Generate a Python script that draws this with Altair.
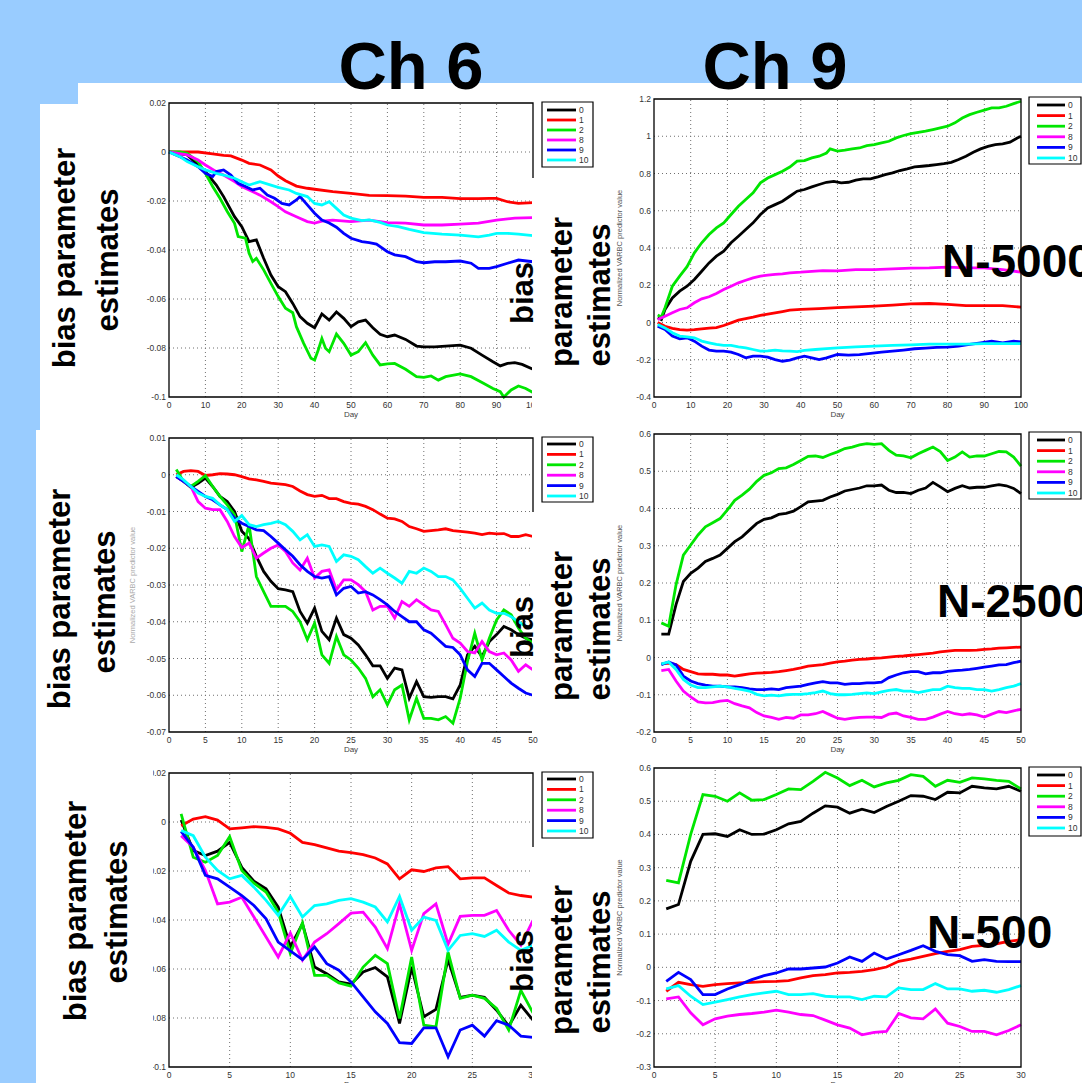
import altair as alt
import pandas as pd

W, H = 1082, 1083
FONT = "Liberation Sans"
SERIES = ["0", "1", "2", "8", "9", "10"]
COLORS = ["#000000", "#ff0000", "#00e600", "#ff00ff", "#0000ff", "#00ffff"]
SLIDE_BLUE = "#99ccff"
COLOR_SCALE = alt.Scale(domain=SERIES, range=COLORS)
YTITLE = "Normalized VARBC predictor value"

# ---------------- Panel 1: Ch 6, N-5000 (days 0-100) ----------------
P1_DAYS = {
    "0": [0, 5, 10, 13, 15, 18, 20, 22, 24, 26, 28, 30, 32, 34, 36, 38, 40, 42, 44, 46, 48, 50, 52, 54, 56, 58, 60, 62, 65, 68, 70, 73, 76, 80, 83, 86, 89, 91, 93, 95, 97, 100],
    "1": [0, 8, 12, 15, 17, 20, 22, 25, 28, 30, 32, 35, 38, 40, 45, 50, 55, 60, 65, 70, 75, 80, 85, 88, 90, 93, 96, 100],
    "2": [0, 3, 5, 8, 10, 12, 14, 16, 18, 19, 21, 22, 23, 24, 26, 28, 30, 32, 34, 35, 37, 39, 40, 41, 42, 43, 44, 46, 48, 50, 52, 54, 56, 58, 60, 62, 65, 68, 70, 72, 74, 76, 80, 83, 86, 89, 91, 92, 94, 96, 98, 100],
    "8": [0, 5, 8, 10, 13, 15, 18, 20, 22, 25, 28, 30, 32, 35, 38, 40, 42, 45, 50, 55, 60, 65, 70, 75, 80, 85, 90, 95, 100],
    "9": [0, 3, 5, 8, 10, 12, 13, 15, 17, 19, 21, 23, 25, 27, 29, 31, 33, 35, 36, 38, 40, 42, 44, 46, 48, 50, 53, 55, 57, 60, 62, 65, 68, 70, 73, 76, 80, 83, 85, 88, 90, 93, 96, 100],
    "10": [0, 3, 5, 8, 10, 13, 15, 18, 20, 22, 25, 28, 30, 33, 35, 38, 40, 42, 44, 46, 48, 50, 53, 55, 58, 60, 63, 66, 70, 75, 80, 85, 88, 90, 93, 96, 100],
}
P1_VALS = {
    "0": [0, -0.0012, -0.0080, -0.0135, -0.0182, -0.0264, -0.0305, -0.0366, -0.0359, -0.0434, -0.0502, -0.0550, -0.0570, -0.0618, -0.0672, -0.0699, -0.0717, -0.0661, -0.0686, -0.0653, -0.0679, -0.0713, -0.0693, -0.0686, -0.0717, -0.0744, -0.0754, -0.0747, -0.0765, -0.0792, -0.0795, -0.0795, -0.0792, -0.0788, -0.0801, -0.0829, -0.0856, -0.0873, -0.0863, -0.0860, -0.0867, -0.0887],
    "1": [0, 0, -0.0008, -0.0014, -0.0016, -0.0033, -0.0046, -0.0053, -0.0073, -0.0098, -0.0117, -0.0139, -0.0148, -0.0152, -0.0162, -0.0169, -0.0177, -0.0178, -0.0180, -0.0185, -0.0185, -0.0190, -0.0190, -0.0189, -0.0189, -0.0203, -0.0210, -0.0207],
    "2": [0, 0, -0.0005, -0.0040, -0.0087, -0.0141, -0.0189, -0.0243, -0.0291, -0.0345, -0.0352, -0.0413, -0.0447, -0.0434, -0.0481, -0.0536, -0.0590, -0.0638, -0.0656, -0.0713, -0.0781, -0.0842, -0.0849, -0.0808, -0.0761, -0.0801, -0.0815, -0.0743, -0.0781, -0.0829, -0.0815, -0.0778, -0.0829, -0.0869, -0.0865, -0.0863, -0.0887, -0.0917, -0.0920, -0.0914, -0.0931, -0.0917, -0.0906, -0.0917, -0.0941, -0.0965, -0.0978, -0.1000, -0.0971, -0.0955, -0.0965, -0.0982],
    "8": [0, -0.0012, -0.0033, -0.0053, -0.0080, -0.0094, -0.0121, -0.0141, -0.0155, -0.0176, -0.0203, -0.0223, -0.0244, -0.0264, -0.0284, -0.0290, -0.0282, -0.0278, -0.0284, -0.0278, -0.0288, -0.0290, -0.0298, -0.0298, -0.0294, -0.0290, -0.0278, -0.0270, -0.0268],
    "9": [0, -0.0019, -0.0033, -0.0060, -0.0087, -0.0100, -0.0080, -0.0073, -0.0094, -0.0128, -0.0141, -0.0155, -0.0148, -0.0176, -0.0189, -0.0210, -0.0216, -0.0196, -0.0182, -0.0216, -0.0250, -0.0278, -0.0290, -0.0307, -0.0332, -0.0352, -0.0366, -0.0370, -0.0376, -0.0407, -0.0420, -0.0427, -0.0448, -0.0452, -0.0448, -0.0448, -0.0445, -0.0454, -0.0475, -0.0475, -0.0468, -0.0454, -0.0441, -0.0448],
    "10": [0, -0.0019, -0.0039, -0.0060, -0.0073, -0.0087, -0.0094, -0.0107, -0.0121, -0.0135, -0.0121, -0.0135, -0.0144, -0.0155, -0.0169, -0.0182, -0.0210, -0.0216, -0.0203, -0.0230, -0.0257, -0.0270, -0.0280, -0.0277, -0.0287, -0.0298, -0.0305, -0.0316, -0.0329, -0.0335, -0.0339, -0.0346, -0.0339, -0.0332, -0.0332, -0.0335, -0.0341],
}

# ---------------- Panel 2: Ch 9, N-5000 (days 1-100) ----------------
P2_DAYS = {
    "0": [1, 2, 3, 5, 7, 9, 11, 13, 15, 17, 19, 21, 23, 25, 27, 29, 31, 33, 35, 37, 39, 41, 43, 45, 47, 49, 51, 53, 55, 57, 59, 61, 63, 65, 67, 69, 71, 73, 75, 77, 79, 81, 83, 85, 87, 89, 91, 93, 95, 97, 99, 100],
    "1": [1, 3, 5, 7, 9, 11, 13, 15, 17, 19, 21, 23, 25, 27, 29, 31, 33, 35, 37, 40, 45, 50, 55, 60, 65, 70, 75, 80, 85, 90, 95, 100],
    "2": [1, 2, 3, 5, 7, 9, 11, 13, 15, 17, 19, 21, 23, 25, 27, 29, 31, 33, 35, 37, 39, 41, 43, 45, 47, 48, 50, 52, 54, 56, 58, 60, 62, 64, 66, 68, 70, 72, 74, 76, 78, 80, 82, 84, 86, 88, 90, 92, 94, 96, 98, 100],
    "8": [1, 3, 5, 7, 9, 11, 13, 15, 17, 19, 21, 23, 25, 27, 29, 31, 33, 35, 37, 40, 43, 46, 50, 55, 60, 65, 70, 75, 80, 85, 90, 95, 100],
    "9": [1, 3, 5, 7, 9, 11, 13, 15, 17, 19, 21, 23, 25, 27, 29, 31, 33, 35, 37, 39, 41, 43, 45, 47, 50, 53, 56, 59, 62, 65, 68, 71, 74, 77, 80, 83, 86, 89, 92, 95, 98, 100],
    "10": [1, 3, 5, 7, 9, 11, 13, 15, 17, 19, 21, 23, 25, 27, 29, 31, 33, 35, 37, 39, 41, 44, 47, 50, 55, 60, 65, 70, 75, 80, 85, 90, 95, 100],
}
P2_VALS = {
    "0": [0.025, 0.016, 0.07, 0.132, 0.168, 0.195, 0.231, 0.275, 0.32, 0.356, 0.383, 0.428, 0.463, 0.499, 0.535, 0.58, 0.615, 0.633, 0.651, 0.678, 0.705, 0.714, 0.728, 0.741, 0.753, 0.758, 0.75, 0.753, 0.764, 0.771, 0.771, 0.782, 0.794, 0.803, 0.816, 0.825, 0.835, 0.839, 0.843, 0.848, 0.853, 0.86, 0.875, 0.893, 0.914, 0.932, 0.946, 0.955, 0.959, 0.968, 0.991, 1.0],
    "1": [0.0, -0.02, -0.032, -0.038, -0.041, -0.038, -0.034, -0.03, -0.027, -0.016, -0.002, 0.0125, 0.021, 0.029, 0.038, 0.045, 0.052, 0.059, 0.066, 0.07, 0.075, 0.08, 0.084, 0.088, 0.093, 0.1, 0.102, 0.097, 0.091, 0.091, 0.091, 0.082],
    "2": [0.04, 0.03, 0.079, 0.195, 0.249, 0.30, 0.374, 0.428, 0.472, 0.508, 0.535, 0.58, 0.624, 0.66, 0.696, 0.75, 0.776, 0.794, 0.812, 0.835, 0.866, 0.869, 0.884, 0.893, 0.91, 0.932, 0.92, 0.925, 0.932, 0.937, 0.95, 0.955, 0.964, 0.973, 0.991, 1.004, 1.014, 1.021, 1.027, 1.036, 1.045, 1.054, 1.072, 1.098, 1.116, 1.129, 1.14, 1.152, 1.152, 1.161, 1.175, 1.188],
    "8": [0.016, 0.034, 0.052, 0.07, 0.079, 0.106, 0.127, 0.138, 0.156, 0.177, 0.195, 0.213, 0.227, 0.24, 0.249, 0.254, 0.258, 0.261, 0.267, 0.27, 0.275, 0.279, 0.277, 0.284, 0.284, 0.288, 0.292, 0.293, 0.297, 0.293, 0.293, 0.284, 0.27],
    "9": [-0.02, -0.038, -0.073, -0.088, -0.082, -0.1, -0.127, -0.148, -0.154, -0.154, -0.159, -0.172, -0.19, -0.181, -0.181, -0.186, -0.199, -0.208, -0.202, -0.19, -0.181, -0.19, -0.199, -0.19, -0.172, -0.175, -0.172, -0.166, -0.159, -0.154, -0.148, -0.141, -0.138, -0.134, -0.132, -0.127, -0.118, -0.109, -0.1, -0.109, -0.1, -0.104],
    "10": [-0.011, -0.029, -0.055, -0.073, -0.077, -0.082, -0.1, -0.109, -0.118, -0.123, -0.123, -0.131, -0.136, -0.145, -0.154, -0.152, -0.148, -0.152, -0.154, -0.156, -0.15, -0.145, -0.14, -0.136, -0.131, -0.127, -0.123, -0.12, -0.116, -0.116, -0.116, -0.113, -0.113, -0.113],
}

# ---------------- Panel 3: Ch 6, N-2500 (days 1-50) ----------------
P3_VALS = {
    "0": [-0.0005, -0.0018, -0.0034, -0.0023, -0.0009, -0.0032, -0.0059, -0.0073, -0.0100, -0.0154,
          -0.0174, -0.0222, -0.0263, -0.0290, -0.0310, -0.0313, -0.0318, -0.0372, -0.0404, -0.0363,
          -0.0426, -0.0449, -0.0390, -0.0435, -0.0445, -0.0463, -0.0490, -0.0520, -0.0520, -0.0554,
          -0.0526, -0.0531, -0.0608, -0.0563, -0.0604, -0.0606, -0.0604, -0.0604, -0.0610, -0.0572,
          -0.0490, -0.0467, -0.0495, -0.0454, -0.0435, -0.0413, -0.0422, -0.0435, -0.0445, -0.0449],
    "1": [0, 0.0009, 0.0011, 0.0009, -0.0002, 0, 0.0003, 0.0002, 0, -0.0005,
          -0.0011, -0.0014, -0.0018, -0.0023, -0.0025, -0.0027, -0.0032, -0.0044, -0.0054, -0.0059,
          -0.0056, -0.0065, -0.0065, -0.0073, -0.0078, -0.0080, -0.0086, -0.0095, -0.0107, -0.0118,
          -0.0120, -0.0127, -0.0141, -0.0147, -0.0154, -0.0152, -0.0150, -0.0147, -0.0152, -0.0154,
          -0.0156, -0.0159, -0.0163, -0.0159, -0.0161, -0.0160, -0.0168, -0.0168, -0.0163, -0.0168],
    "2": [0.0014, -0.0018, -0.0032, -0.0018, -0.0002, -0.0032, -0.0059, -0.0082, -0.0109, -0.0209,
          -0.0136, -0.0277, -0.0318, -0.0358, -0.0358, -0.0358, -0.0372, -0.0400, -0.0449, -0.0404,
          -0.0490, -0.0513, -0.0440, -0.0490, -0.0504, -0.0526, -0.0554, -0.0604, -0.0585, -0.0626,
          -0.0585, -0.0572, -0.0667, -0.0608, -0.0663, -0.0663, -0.0667, -0.0658, -0.0676, -0.0608,
          -0.0508, -0.0431, -0.0504, -0.0445, -0.0395, -0.0368, -0.0381, -0.0417, -0.0445, -0.0458],
    "8": [-0.0005, -0.0018, -0.0032, -0.0073, -0.0091, -0.0095, -0.0095, -0.0127, -0.0168, -0.0198,
          -0.0186, -0.0227, -0.0213, -0.0200, -0.0191, -0.0209, -0.0240, -0.0259, -0.0227, -0.0281,
          -0.0263, -0.0259, -0.0313, -0.0286, -0.0286, -0.0299, -0.0318, -0.0368, -0.0358, -0.0358,
          -0.0390, -0.0345, -0.0358, -0.0340, -0.0354, -0.0368, -0.0372, -0.0408, -0.0445, -0.0458,
          -0.0481, -0.0485, -0.0454, -0.0481, -0.0490, -0.0485, -0.0504, -0.0535, -0.0517, -0.0531],
    "9": [-0.0005, -0.0018, -0.0032, -0.0045, -0.0059, -0.0068, -0.0082, -0.0095, -0.0118, -0.0132,
          -0.0141, -0.0150, -0.0152, -0.0168, -0.0186, -0.0204, -0.0222, -0.0245, -0.0263, -0.0277,
          -0.0281, -0.0277, -0.0327, -0.0309, -0.0304, -0.0322, -0.0318, -0.0327, -0.0340, -0.0354,
          -0.0372, -0.0386, -0.0400, -0.0400, -0.0422, -0.0431, -0.0449, -0.0467, -0.0470, -0.0490,
          -0.0531, -0.0549, -0.0513, -0.0513, -0.0531, -0.0549, -0.0567, -0.0581, -0.0594, -0.0600],
    "10": [0, -0.0014, -0.0032, -0.0050, -0.0059, -0.0064, -0.0082, -0.0095, -0.0127, -0.0111,
           -0.0136, -0.0141, -0.0136, -0.0132, -0.0127, -0.0136, -0.0154, -0.0177, -0.0163, -0.0195,
           -0.0191, -0.0195, -0.0236, -0.0218, -0.0222, -0.0231, -0.0250, -0.0268, -0.0254, -0.0268,
           -0.0281, -0.0295, -0.0263, -0.0268, -0.0254, -0.0263, -0.0277, -0.0277, -0.0286, -0.0309,
           -0.0336, -0.0363, -0.0349, -0.0368, -0.0377, -0.0377, -0.0386, -0.0400, -0.0413, -0.0417],
}

# ---------------- Panel 4: Ch 9, N-2500 (days 1-50) ----------------
P4_VALS = {
    "0": [0.063, 0.063, 0.142, 0.204, 0.226, 0.240, 0.258, 0.266, 0.275, 0.293,
          0.311, 0.324, 0.342, 0.360, 0.371, 0.375, 0.384, 0.387, 0.393, 0.405,
          0.418, 0.420, 0.422, 0.431, 0.438, 0.447, 0.451, 0.455, 0.461, 0.461,
          0.463, 0.449, 0.443, 0.443, 0.440, 0.449, 0.455, 0.470, 0.458, 0.445,
          0.454, 0.461, 0.455, 0.457, 0.457, 0.461, 0.464, 0.461, 0.454, 0.440],
    "1": [-0.017, -0.015, -0.019, -0.032, -0.038, -0.044, -0.045, -0.045, -0.047, -0.047,
          -0.050, -0.047, -0.044, -0.042, -0.041, -0.040, -0.038, -0.035, -0.032, -0.028,
          -0.023, -0.021, -0.019, -0.015, -0.012, -0.010, -0.007, -0.005, -0.004, -0.002,
          -0.001, 0.001, 0.003, 0.004, 0.006, 0.008, 0.010, 0.012, 0.015, 0.017,
          0.019, 0.019, 0.019, 0.020, 0.022, 0.023, 0.025, 0.026, 0.027, 0.028],
    "2": [0.093, 0.084, 0.195, 0.275, 0.302, 0.329, 0.351, 0.362, 0.373, 0.396,
          0.422, 0.436, 0.452, 0.473, 0.489, 0.496, 0.507, 0.509, 0.518, 0.529,
          0.540, 0.541, 0.537, 0.545, 0.552, 0.561, 0.565, 0.571, 0.574, 0.572,
          0.574, 0.556, 0.543, 0.541, 0.536, 0.547, 0.556, 0.565, 0.553, 0.529,
          0.538, 0.552, 0.538, 0.541, 0.541, 0.547, 0.553, 0.552, 0.538, 0.514],
    "8": [-0.035, -0.032, -0.063, -0.090, -0.106, -0.119, -0.122, -0.121, -0.117, -0.115,
          -0.124, -0.130, -0.135, -0.148, -0.157, -0.161, -0.166, -0.161, -0.163, -0.154,
          -0.154, -0.151, -0.145, -0.154, -0.163, -0.166, -0.163, -0.161, -0.160, -0.160,
          -0.161, -0.152, -0.149, -0.157, -0.161, -0.166, -0.166, -0.160, -0.152, -0.145,
          -0.151, -0.154, -0.151, -0.154, -0.160, -0.152, -0.145, -0.148, -0.143, -0.139],
    "9": [-0.019, -0.012, -0.020, -0.050, -0.063, -0.070, -0.074, -0.077, -0.077, -0.079,
          -0.079, -0.081, -0.084, -0.086, -0.086, -0.084, -0.086, -0.081, -0.079, -0.077,
          -0.072, -0.068, -0.065, -0.068, -0.068, -0.072, -0.070, -0.070, -0.068, -0.068,
          -0.066, -0.054, -0.047, -0.041, -0.038, -0.038, -0.044, -0.041, -0.041, -0.037,
          -0.035, -0.034, -0.032, -0.029, -0.026, -0.023, -0.020, -0.019, -0.014, -0.010],
    "10": [-0.017, -0.012, -0.032, -0.059, -0.074, -0.081, -0.081, -0.079, -0.077, -0.079,
           -0.083, -0.086, -0.090, -0.099, -0.103, -0.101, -0.103, -0.100, -0.099, -0.099,
           -0.097, -0.094, -0.090, -0.097, -0.100, -0.100, -0.099, -0.097, -0.095, -0.097,
           -0.092, -0.088, -0.086, -0.090, -0.090, -0.094, -0.090, -0.086, -0.086, -0.077,
           -0.081, -0.083, -0.083, -0.086, -0.086, -0.090, -0.086, -0.081, -0.077, -0.070],
}

# ---------------- Panel 5: Ch 6, N-500 (days 1-30) ----------------
P5_VALS = {
    "0": [0.0008, -0.0117, -0.0137, -0.0119, -0.0083, -0.0185, -0.0242, -0.0273, -0.0347, -0.0510,
          -0.0415, -0.0592, -0.0619, -0.0653, -0.0662, -0.0612, -0.0594, -0.0632, -0.0822, -0.0592,
          -0.0795, -0.0765, -0.0562, -0.0716, -0.0707, -0.0716, -0.0768, -0.0833, -0.0748, -0.0809],
    "1": [-0.0015, 0.0012, 0.0022, 0.0008, -0.0028, -0.0024, -0.0019, -0.0022, -0.0028, -0.0046,
          -0.0083, -0.0092, -0.0106, -0.0119, -0.0125, -0.0133, -0.0147, -0.0171, -0.0232, -0.0195,
          -0.0202, -0.0187, -0.0182, -0.0232, -0.0228, -0.0228, -0.0259, -0.0290, -0.0300, -0.0307],
    "2": [0.0033, -0.0144, -0.0164, -0.0137, -0.0060, -0.0198, -0.0250, -0.0286, -0.0368, -0.0537,
          -0.0412, -0.0626, -0.0626, -0.0657, -0.0670, -0.0592, -0.0544, -0.0578, -0.0802, -0.0551,
          -0.0829, -0.0836, -0.0531, -0.0720, -0.0707, -0.0720, -0.0761, -0.0849, -0.0687, -0.0779],
    "8": [-0.0056, -0.0103, -0.0198, -0.0334, -0.0327, -0.0307, -0.0388, -0.0469, -0.0551, -0.0453,
          -0.0564, -0.0490, -0.0456, -0.0415, -0.0372, -0.0368, -0.0429, -0.0517, -0.0334, -0.0524,
          -0.0374, -0.0334, -0.0499, -0.0385, -0.0381, -0.0381, -0.0361, -0.0442, -0.0503, -0.0402],
    "9": [-0.0038, -0.0103, -0.0218, -0.0232, -0.0266, -0.0300, -0.0341, -0.0395, -0.0490, -0.0526,
          -0.0562, -0.0510, -0.0578, -0.0605, -0.0653, -0.0714, -0.0775, -0.0822, -0.0901, -0.0904,
          -0.0840, -0.0840, -0.0958, -0.0849, -0.0829, -0.0874, -0.0811, -0.0829, -0.0874, -0.0879],
    "10": [-0.0035, -0.0056, -0.0144, -0.0198, -0.0232, -0.0218, -0.0266, -0.0320, -0.0381, -0.0304,
           -0.0388, -0.0341, -0.0334, -0.0320, -0.0313, -0.0327, -0.0347, -0.0408, -0.0304, -0.0442,
           -0.0388, -0.0402, -0.0524, -0.0463, -0.0456, -0.0467, -0.0442, -0.0490, -0.0524, -0.0503],
}

# ---------------- Panel 6: Ch 9, N-500 (days 1-30) ----------------
P6_VALS = {
    "0": [0.176, 0.189, 0.319, 0.400, 0.402, 0.394, 0.414, 0.400, 0.401, 0.414,
          0.432, 0.439, 0.464, 0.486, 0.482, 0.464, 0.476, 0.466, 0.484, 0.500,
          0.517, 0.515, 0.505, 0.527, 0.525, 0.545, 0.540, 0.537, 0.545, 0.530],
    "1": [-0.072, -0.045, -0.052, -0.057, -0.052, -0.049, -0.047, -0.045, -0.043, -0.042,
          -0.040, -0.032, -0.025, -0.022, -0.017, -0.015, -0.012, -0.007, 0.001, 0.018,
          0.025, 0.033, 0.041, 0.048, 0.053, 0.063, 0.066, 0.071, 0.078, 0.083],
    "2": [0.262, 0.254, 0.400, 0.520, 0.515, 0.500, 0.525, 0.503, 0.505, 0.520,
          0.537, 0.535, 0.560, 0.587, 0.570, 0.547, 0.563, 0.543, 0.555, 0.563,
          0.580, 0.575, 0.545, 0.563, 0.557, 0.570, 0.567, 0.563, 0.560, 0.537],
    "8": [-0.095, -0.089, -0.137, -0.173, -0.155, -0.147, -0.142, -0.139, -0.135, -0.129,
          -0.135, -0.142, -0.145, -0.159, -0.173, -0.183, -0.203, -0.196, -0.193, -0.139,
          -0.152, -0.155, -0.125, -0.168, -0.178, -0.193, -0.193, -0.203, -0.190, -0.173],
    "9": [-0.042, -0.015, -0.037, -0.082, -0.082, -0.065, -0.052, -0.037, -0.025, -0.017,
          -0.005, -0.005, -0.002, 0.001, 0.013, 0.031, 0.018, 0.043, 0.025, 0.038,
          0.051, 0.065, 0.048, 0.038, 0.035, 0.018, 0.023, 0.018, 0.017, 0.017],
    "10": [-0.065, -0.055, -0.087, -0.112, -0.105, -0.097, -0.089, -0.082, -0.077, -0.072,
           -0.082, -0.082, -0.079, -0.087, -0.089, -0.089, -0.097, -0.087, -0.089, -0.062,
           -0.067, -0.067, -0.049, -0.065, -0.065, -0.072, -0.069, -0.075, -0.067, -0.055],
}

# tick values
X_TICKS_100 = [0, 10, 20, 30, 40, 50, 60, 70, 80, 90, 100]
X_TICKS_50 = [0, 5, 10, 15, 20, 25, 30, 35, 40, 45, 50]
X_TICKS_30 = [0, 5, 10, 15, 20, 25, 30]
Y_TICKS_CH6_A = [-0.1, -0.08, -0.06, -0.04, -0.02, 0, 0.02]
Y_TICKS_CH9_A = [-0.4, -0.2, 0, 0.2, 0.4, 0.6, 0.8, 1, 1.2]
Y_TICKS_CH6_B = [-0.07, -0.06, -0.05, -0.04, -0.03, -0.02, -0.01, 0, 0.01]
Y_TICKS_CH9_B = [-0.2, -0.1, 0, 0.1, 0.2, 0.3, 0.4, 0.5, 0.6]
Y_TICKS_CH9_C = [-0.3, -0.2, -0.1, 0, 0.1, 0.2, 0.3, 0.4, 0.5, 0.6]

DUMMY = pd.DataFrame({"k": [0]})
LABEL_COLOR = "#333333"


def fmt_tick(v):
    return "0" if v == 0 else "%g" % v


def long_df(days, vals):
    rows = []
    for s in SERIES:
        d = days[s] if isinstance(days, dict) else days
        for day, v in zip(d, vals[s]):
            rows.append({"day": day, "value": v, "series": s})
    return pd.DataFrame(rows)


def panel(df, box, xdom, ydom, xt, yt, ytitle=None, ytitle_dx=-34, ytitle_color="#555"):
    L, R, B, T = box
    xs = alt.Scale(domain=list(xdom), range=[L, R], nice=False, zero=False)
    ys = alt.Scale(domain=list(ydom), range=[B, T], nice=False, zero=False)
    gxdf = pd.DataFrame({"gx": xt[1:-1], "lo": ydom[0], "hi": ydom[1]})
    gydf = pd.DataFrame({"gy": yt[1:-1], "lo": xdom[0], "hi": xdom[1]})
    grid_style = dict(strokeDash=[1, 3], color="#6f6f6f", strokeWidth=1)
    grid_x = alt.Chart(gxdf).mark_rule(**grid_style).encode(
        x=alt.X("gx:Q", scale=xs, axis=None),
        y=alt.Y("lo:Q", scale=ys, axis=None),
        y2="hi:Q",
    )
    grid_y = alt.Chart(gydf).mark_rule(**grid_style).encode(
        y=alt.Y("gy:Q", scale=ys, axis=None),
        x=alt.X("lo:Q", scale=xs, axis=None),
        x2="hi:Q",
    )
    lines = alt.Chart(df).mark_line(strokeWidth=2.8, clip=True).encode(
        x=alt.X("day:Q", scale=xs, axis=None),
        y=alt.Y("value:Q", scale=ys, axis=None),
        color=alt.Color("series:N", scale=COLOR_SCALE, legend=None),
    )
    fdf = pd.DataFrame({"fx0": [xdom[0]], "fx1": [xdom[1]], "fy0": [ydom[0]], "fy1": [ydom[1]]})
    frame = alt.Chart(fdf).mark_rect(fillOpacity=0, stroke="black", strokeWidth=1.3).encode(
        x=alt.X("fx0:Q", scale=xs, axis=None), x2="fx1:Q",
        y=alt.Y("fy0:Q", scale=ys, axis=None), y2="fy1:Q",
    )
    # tick labels placed through the panel's own scales
    xl_df = pd.DataFrame({"t": xt, "lab": [str(v) for v in xt], "yb": ydom[0]})
    xlabels = alt.Chart(xl_df).mark_text(baseline="top", dy=4, fontSize=8.5, font=FONT,
                                         color=LABEL_COLOR).encode(
        x=alt.X("t:Q", scale=xs, axis=None), y=alt.Y("yb:Q", scale=ys, axis=None), text="lab:N")
    yl_df = pd.DataFrame({"t": yt, "lab": [fmt_tick(v) for v in yt], "xl": xdom[0]})
    ylabels = alt.Chart(yl_df).mark_text(align="right", baseline="middle", dx=-3, fontSize=8.5,
                                         font=FONT, color=LABEL_COLOR).encode(
        x=alt.X("xl:Q", scale=xs, axis=None), y=alt.Y("t:Q", scale=ys, axis=None), text="lab:N")
    xt_df = pd.DataFrame({"xm": [(xdom[0] + xdom[1]) / 2], "yb": [ydom[0]], "lab": ["Day"]})
    xtitle = alt.Chart(xt_df).mark_text(baseline="top", dy=14, fontSize=8, font=FONT,
                                        color="#444").encode(
        x=alt.X("xm:Q", scale=xs, axis=None), y=alt.Y("yb:Q", scale=ys, axis=None), text="lab:N")
    parts = [grid_x, grid_y, lines, frame, xlabels, ylabels, xtitle]
    if ytitle:
        yt_df = pd.DataFrame({"xl": [xdom[0]], "ym": [(ydom[0] + ydom[1]) / 2], "lab": [ytitle]})
        # rotated 270 deg: dy (text frame) moves the label left/right on screen
        ytitle_mark = alt.Chart(yt_df).mark_text(angle=270, align="center", baseline="middle",
                                                 dy=ytitle_dx, fontSize=7.5, font=FONT,
                                                 color=ytitle_color).encode(
            x=alt.X("xl:Q", scale=xs, axis=None), y=alt.Y("ym:Q", scale=ys, axis=None),
            text="lab:N")
        parts.append(ytitle_mark)
    return alt.layer(*parts)


def legend(bx0, bx1, by0, by1, sx0, sx1, lx, iy0, iy1):
    box = alt.Chart(DUMMY).mark_rect(fill="white", stroke="black", strokeWidth=1.2).encode(
        x=alt.value(bx0), x2=alt.value(bx1), y=alt.value(by0), y2=alt.value(by1))
    ys = alt.Scale(type="point", domain=SERIES, range=[iy0, iy1], padding=0)
    ldf = pd.DataFrame({"series": SERIES})
    samples = alt.Chart(ldf).mark_rule(strokeWidth=2.8).encode(
        x=alt.value(sx0), x2=alt.value(sx1),
        y=alt.Y("series:N", scale=ys, axis=None),
        color=alt.Color("series:N", scale=COLOR_SCALE, legend=None),
    )
    labels = alt.Chart(ldf).mark_text(align="left", baseline="middle", fontSize=8.5, font=FONT,
                                      color=LABEL_COLOR).encode(
        x=alt.value(lx), y=alt.Y("series:N", scale=ys, axis=None), text="series:N")
    return alt.layer(box, samples, labels)


def rect(x0, x1, y0, y1, color):
    return alt.Chart(DUMMY).mark_rect(color=color).encode(
        x=alt.value(x0), x2=alt.value(x1), y=alt.value(y0), y2=alt.value(y1))


def text(txt, x, y, size, angle=0, align="center", baseline="alphabetic"):
    return alt.Chart(DUMMY).mark_text(text=txt, fontSize=size, font=FONT, fontWeight="bold",
                                      angle=angle, align=align, baseline=baseline,
                                      color="black").encode(x=alt.value(x), y=alt.value(y))


layers = [
    # slide background (blue margins)
    rect(0, W, 0, 83, SLIDE_BLUE),
    rect(0, 78, 83, 104, SLIDE_BLUE),
    rect(0, 40, 104, 430, SLIDE_BLUE),
    rect(0, 36, 430, H, SLIDE_BLUE),
    # panels
    panel(long_df(P1_DAYS, P1_VALS), (169, 533, 397, 103), (0, 100), (-0.1, 0.02), X_TICKS_100, Y_TICKS_CH6_A),
    panel(long_df(P2_DAYS, P2_VALS), (654, 1021, 397, 99), (0, 100), (-0.4, 1.2), X_TICKS_100, Y_TICKS_CH9_A, YTITLE),
    panel(long_df(list(range(1, 51)), P3_VALS), (169, 533, 732, 438), (0, 50), (-0.07, 0.01), X_TICKS_50, Y_TICKS_CH6_B, YTITLE, -36, "#aaaaaa"),
    panel(long_df(list(range(1, 51)), P4_VALS), (654, 1021, 732, 434), (0, 50), (-0.2, 0.6), X_TICKS_50, Y_TICKS_CH9_B, YTITLE),
    panel(long_df(list(range(1, 31)), P5_VALS), (169, 533, 1067, 773), (0, 30), (-0.1, 0.02), X_TICKS_30, Y_TICKS_CH6_A),
    panel(long_df(list(range(1, 31)), P6_VALS), (654, 1021, 1067, 768), (0, 30), (-0.3, 0.6), X_TICKS_30, Y_TICKS_CH9_C, YTITLE),
    # legends
    legend(542, 593, 102, 167, 547, 576, 579, 110, 160),
    legend(542, 593, 437, 502, 547, 576, 579, 444, 496),
    legend(542, 593, 772, 838, 547, 576, 579, 779, 831),
    legend(1029, 1081, 97, 164, 1037, 1065, 1068, 105, 158),
    legend(1029, 1081, 432, 499, 1037, 1065, 1068, 440, 493),
    legend(1029, 1081, 767, 836, 1037, 1065, 1068, 775, 828),
    # white label boxes laid over the slide
    rect(532, 613, 178, 428, "white"),
    rect(532, 613, 512, 735, "white"),
    rect(532, 613, 847, H, "white"),
    rect(36, 153, 737, H, "white"),
    # column titles
    text("Ch 6", 411, 89, 67),
    text("Ch 9", 775, 89, 67),
    # left column labels
    text("bias parameter", 75, 258, 31, 270),
    text("estimates", 118, 260, 31, 270),
    text("bias parameter", 70, 599, 31, 270),
    text("estimates", 115, 602, 31, 270),
    text("bias parameter", 86, 911, 31, 270),
    text("estimates", 127, 912, 31, 270),
    # right column labels
    text("bias", 533, 293, 31, 270),
    text("parameter", 572, 292, 31, 270),
    text("estimates", 610, 295, 31, 270),
    text("bias", 533, 627, 31, 270),
    text("parameter", 572, 626, 31, 270),
    text("estimates", 610, 629, 31, 270),
    text("bias", 533, 961, 31, 270),
    text("parameter", 572, 960, 31, 270),
    text("estimates", 610, 962, 31, 270),
    # sample-size labels
    text("N-5000", 942, 277, 46, 0, "left"),
    text("N-2500", 937, 617, 46, 0, "left"),
    text("N-500", 927, 948, 46, 0, "left"),
]

chart = (
    alt.layer(*layers)
    .resolve_scale(x="independent", y="independent")
    .properties(width=W, height=H, autosize=alt.AutoSizeParams(type="none"), padding=0,
                background="white")
    .configure_view(stroke=None)
)

chart.save("out.html", embed_options={"renderer": "svg", "actions": False})
